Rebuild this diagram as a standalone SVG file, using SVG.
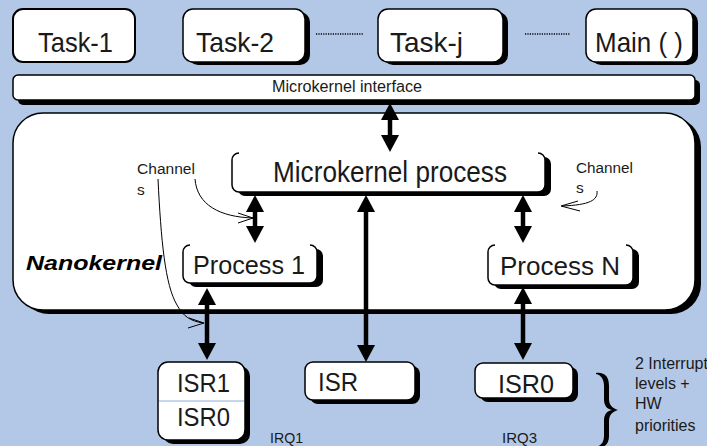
<svg xmlns="http://www.w3.org/2000/svg" width="707" height="446" viewBox="0 0 707 446">
<style>
.t{font-family:"Liberation Sans",Arial,sans-serif;fill:#1a1a1a}
.box{fill:#fff;stroke:#000;stroke-width:1.5}
.sh{fill:#000}
.wf{fill:#fff}
.br{fill:none;stroke:#000;stroke-width:1.5}
.ar{fill:none;stroke:#000;stroke-width:4.5;marker-start:url(#ah);marker-end:url(#ah)}
.thin{fill:none;stroke:#000;stroke-width:1}
.dot{stroke:#000;stroke-width:1.5;stroke-dasharray:1.2 1.2}
</style>
<defs>
<marker id="ah" markerWidth="18" markerHeight="18" refX="2" refY="9" orient="auto-start-reverse" markerUnits="userSpaceOnUse"><path d="M0,0 L17,9 L0,18 z" fill="#000"/></marker>
</defs>
<rect x="0" y="0" width="707" height="446" fill="#B3C8E6"/>

<g id="task1">
<rect class="box" x="13" y="9" width="122" height="53" rx="10" style="stroke-width:2"/>
<text class="t" x="75.5" y="52" font-size="28" text-anchor="middle" textLength="75" lengthAdjust="spacingAndGlyphs">Task-1</text>
</g>
<g id="task2">
<rect class="sh" x="188" y="12" width="122" height="53" rx="10"/>
<rect class="box" x="183" y="9" width="122" height="53" rx="10"/>
<text class="t" x="235" y="52" font-size="28" text-anchor="middle" textLength="78" lengthAdjust="spacingAndGlyphs">Task-2</text>
</g>
<g id="taskj">
<rect class="sh" x="383" y="12" width="125" height="53" rx="10"/>
<rect class="box" x="378" y="9" width="125" height="53" rx="10"/>
<text class="t" x="426.5" y="52" font-size="28" text-anchor="middle" textLength="73" lengthAdjust="spacingAndGlyphs">Task-j</text>
</g>
<g id="main">
<rect class="sh" x="591" y="12" width="107" height="53" rx="10"/>
<rect class="box" x="586" y="9" width="107" height="53" rx="10"/>
<text class="t" x="639" y="52" font-size="28" text-anchor="middle" textLength="88" lengthAdjust="spacingAndGlyphs">Main ( )</text>
</g>
<g id="dots">
<line class="dot" x1="316" y1="34" x2="363" y2="34"/>
<line class="dot" x1="525" y1="34" x2="570" y2="34"/>
</g>

<g id="interface">
<rect class="sh" x="18" y="80" width="682" height="25" rx="5"/>
<rect class="box" x="13" y="75" width="682" height="25" rx="5"/>
<text class="t" x="347" y="92" font-size="16" text-anchor="middle" textLength="150" lengthAdjust="spacingAndGlyphs">Microkernel interface</text>
</g>

<g id="nanokernel">
<rect class="sh" x="19" y="117" width="682" height="197" rx="30"/>
<rect class="box" x="13" y="113" width="682" height="197" rx="30"/>
<text class="t" x="26" y="270" font-size="21" font-weight="bold" font-style="italic" textLength="136" lengthAdjust="spacingAndGlyphs" style="fill:#000">Nanokernel</text>
</g>

<g id="mkprocess">
<rect class="sh" x="238" y="157" width="313" height="39" rx="7"/>
<rect class="wf" x="232" y="153" width="313" height="39" rx="7"/>
<path class="br" d="M239,153 A7,7 0 0 0 232,160 L232,185 A7,7 0 0 0 239,192 L538,192 A7,7 0 0 0 545,185 L545,160 A7,7 0 0 0 538,153"/>
<text class="t" x="390" y="182" font-size="29" text-anchor="middle" textLength="234" lengthAdjust="spacingAndGlyphs">Microkernel process</text>
</g>

<g id="process1">
<rect class="sh" x="189" y="249" width="134" height="38" rx="7"/>
<rect class="wf" x="183" y="245" width="134" height="38" rx="7"/>
<path class="br" d="M190,245 A7,7 0 0 0 183,252 L183,276 A7,7 0 0 0 190,283 L310,283 A7,7 0 0 0 317,276 L317,252 A7,7 0 0 0 310,245"/>
<text class="t" x="249" y="274" font-size="26" text-anchor="middle" textLength="112" lengthAdjust="spacingAndGlyphs">Process 1</text>
</g>

<g id="processN">
<rect class="sh" x="494" y="249" width="145" height="40" rx="7"/>
<rect class="wf" x="488" y="245" width="145" height="40" rx="7"/>
<path class="br" d="M495,245 A7,7 0 0 0 488,252 L488,278 A7,7 0 0 0 495,285 L626,285 A7,7 0 0 0 633,278 L633,252 A7,7 0 0 0 626,245"/>
<text class="t" x="560" y="275" font-size="26" text-anchor="middle" textLength="120" lengthAdjust="spacingAndGlyphs">Process N</text>
</g>

<g id="channelsLeft">
<text class="t" x="137" y="174" font-size="15.5" textLength="58" lengthAdjust="spacingAndGlyphs">Channel</text>
<text class="t" x="137" y="195" font-size="15.5">s</text>
</g>
<g id="channelsRight">
<text class="t" x="576" y="173" font-size="15.5" textLength="57" lengthAdjust="spacingAndGlyphs">Channel</text>
<text class="t" x="576" y="193" font-size="15.5">s</text>
</g>

<g id="isr10">
<rect class="sh" x="163" y="366" width="87" height="78" rx="10"/>
<rect class="box" x="158" y="362" width="87" height="78" rx="10"/>
<line x1="159" y1="401" x2="244" y2="401" stroke="#B3C8E6" stroke-width="1.5"/>
<text class="t" x="203.5" y="392" font-size="26" text-anchor="middle" textLength="53" lengthAdjust="spacingAndGlyphs">ISR1</text>
<text class="t" x="203.5" y="426" font-size="26" text-anchor="middle" textLength="53" lengthAdjust="spacingAndGlyphs">ISR0</text>
</g>
<g id="isr">
<rect class="sh" x="310" y="366" width="110" height="38" rx="8"/>
<rect class="box" x="305" y="362" width="110" height="38" rx="8"/>
<text class="t" x="318" y="391" font-size="26" textLength="40" lengthAdjust="spacingAndGlyphs">ISR</text>
</g>
<g id="isr0">
<rect class="sh" x="480" y="367" width="98" height="35" rx="8"/>
<rect class="box" x="475" y="363" width="98" height="35" rx="8"/>
<text class="t" x="526" y="393" font-size="26" text-anchor="middle" textLength="56" lengthAdjust="spacingAndGlyphs">ISR0</text>
</g>

<g id="irqs">
<text class="t" x="270" y="443" font-size="15" textLength="33" lengthAdjust="spacingAndGlyphs">IRQ1</text>
<text class="t" x="502" y="443" font-size="15" textLength="35" lengthAdjust="spacingAndGlyphs">IRQ3</text>
</g>

<g id="priorities">
<path d="M596,373 C605,372 609,377 609,386 L609,399 C609,405 612,408 618,410 C612,412 609,415 609,421 L609,436 C609,444 605,448 596,448 L596,447 C601,446 604,442 604,436 L604,421 C604,414 607,411 612,410 C607,409 604,406 604,399 L604,386 C604,379 601,375 596,374 Z" fill="#000"/>
<text class="t" x="635" y="369" font-size="16">2 Interrupt</text>
<text class="t" x="635" y="389" font-size="16">levels +</text>
<text class="t" x="635" y="409" font-size="16">HW</text>
<text class="t" x="635" y="431" font-size="16">priorities</text>
</g>

<g id="connectors">
<line class="ar" x1="390" y1="118" x2="390" y2="137"/>
<line class="ar" x1="255" y1="210" x2="255" y2="228"/>
<line class="ar" x1="366" y1="210" x2="366" y2="347"/>
<line class="ar" x1="523" y1="210" x2="523" y2="228"/>
<line class="ar" x1="207" y1="303" x2="207" y2="345"/>
<line class="ar" x1="523" y1="302" x2="523" y2="345"/>
<path class="thin" d="M158,179 C161,240 165,285 177,305 C183,316 190,321 203,323"/>
<path class="thin" d="M189,318 L204,323 L188,328"/>
<path class="thin" d="M195,179 C197,205 220,217 253,218"/>
<path class="thin" d="M238,213 L253,218 L238,223"/>
<path class="thin" d="M597,191 C598,200 590,205 562,206"/>
<path class="thin" d="M578,201 L561,206 L580,211"/>
</g>
</svg>
